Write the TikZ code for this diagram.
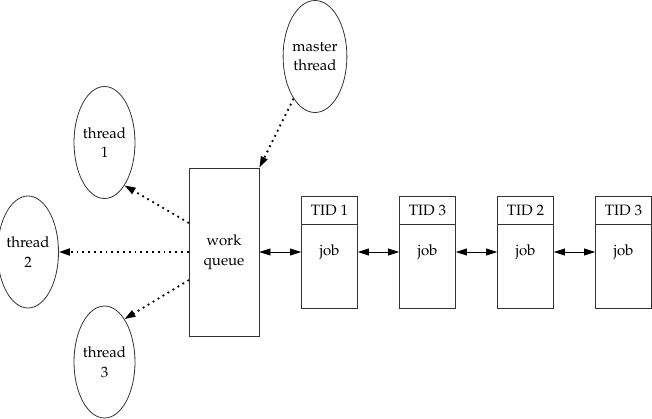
\documentclass[tikz,border=0pt]{standalone}
\usepackage[T1]{fontenc}
\usepackage{mathpazo}
\usetikzlibrary{shapes.geometric,arrows.meta}
\begin{document}
\begin{tikzpicture}[x=1pt,y=-1pt,
  every node/.style={font=\fontsize{15}{19.5}\selectfont, text=black},
  oval/.style={ellipse, draw=black!80, line width=0.8pt, minimum width=56pt, minimum height=112pt, inner sep=0pt, align=center},
  qbox/.style={rectangle, draw=black!80, line width=0.8pt, inner sep=0pt, align=center},
  dotarrow/.style={line width=1.8pt, dash pattern=on 1.8pt off 4pt, -{Triangle[length=11pt,width=7pt]}},
  duarrow/.style={line width=0.8pt, {Triangle[length=11pt,width=7pt]}-{Triangle[length=11pt,width=7pt]}}
]
\useasboundingbox (0,0) rectangle (652,418);
\node[oval] (m) at (315,56.5) {master\\thread};
\node[oval] (t1) at (104.5,142.5) {thread\\1};
\node[oval] (t2) at (28,252) {thread\\2};
\node[oval] (t3) at (104.5,362) {thread\\3};
\node[qbox, minimum width=70pt, minimum height=168pt] (wq) at (224,252) {work\\queue};
\coordinate (s1) at (189,223);
\coordinate (s3) at (189,280);
\foreach \i/\x/\t in {1/329.5/TID 1, 2/427.5/TID 3, 3/525.5/TID 2, 4/623.5/TID 3} {
  \node[qbox, minimum width=56pt, minimum height=112pt] (j\i) at (\x,252) {job};
  \node (h\i) at (\x,210) {\t};
  \draw[draw=black!80, line width=0.8pt] (j\i.west |- 0,224) -- (j\i.east |- 0,224);
}
\draw[dotarrow] (m.-117) -- (wq.north east);
\draw[dotarrow] (s1) -- (t1.-65);
\draw[dotarrow] (wq.west) -- (t2.east);
\draw[dotarrow] (s3) -- (t3.65);
\draw[duarrow] (wq.east) -- (j1.west);
\draw[duarrow] (j1.east) -- (j2.west);
\draw[duarrow] (j2.east) -- (j3.west);
\draw[duarrow] (j3.east) -- (j4.west);
\end{tikzpicture}
\end{document}
